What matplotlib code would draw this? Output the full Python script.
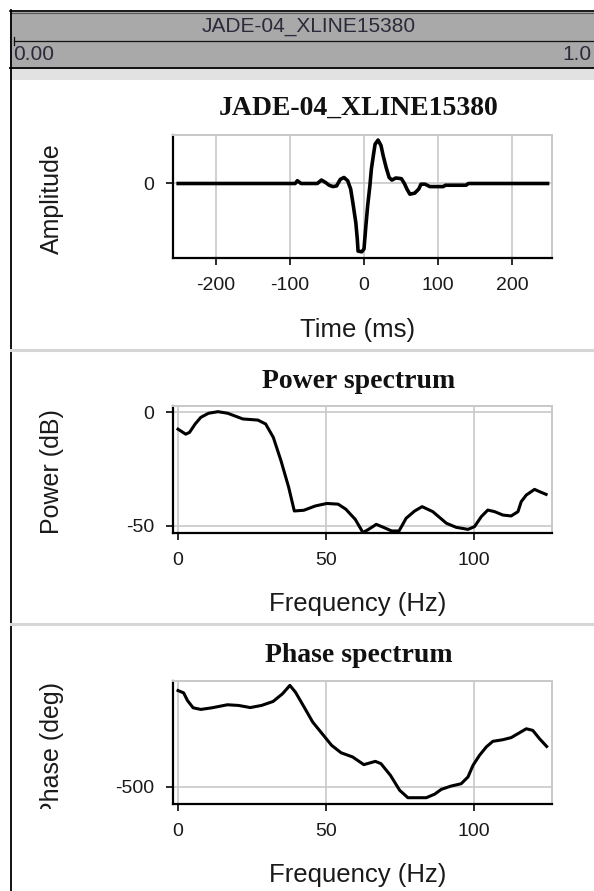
import matplotlib
matplotlib.use("Agg")
import matplotlib.pyplot as plt
from matplotlib.transforms import Bbox

W, H = 594, 891
SANS = "Liberation Sans"
SERIF = "Liberation Serif"
GRID = "#c8c8c8"
INK = "#1a1a1a"

plt.rcParams["font.family"] = [SANS, "DejaVu Sans"]
plt.rcParams["axes.unicode_minus"] = False

trace_name = "JADE-04_XLINE15380"

# wavelet
time_ms = [-251, -93, -90, -85, -63, -57.5, -52, -47, -42, -37, -32, -27, -22,
           -18, -15, -11, -9, -8, -3, 0, 2.6, 5, 8, 10, 13, 15, 19, 23, 26, 30,
           34, 37.7, 43, 50.5, 54.6, 58, 62, 68.5, 74, 77, 82.5, 89, 107, 110,
           138, 141, 248]
amplitude = [0, 0, 0.04, 0, 0, 0.05, 0.015, -0.025, -0.045, -0.035, 0.06, 0.087,
             0.04, -0.08, -0.28, -0.57, -0.81, -0.98, -0.99, -0.95, -0.61, -0.32,
             -0.03, 0.21, 0.43, 0.57, 0.63, 0.55, 0.40, 0.23, 0.087, 0.05, 0.08,
             0.07, 0.0, -0.08, -0.155, -0.14, -0.08, -0.01, -0.01, -0.045, -0.045,
             -0.025, -0.025, 0, 0]

# power spectrum
freq_pow = [0, 2.6, 3.9, 5.8, 7.7, 10.3, 13.5, 16.8, 21.9, 27, 29.6, 32.2, 34.8,
            37.4, 39.3, 42.5, 46.4, 50.3, 54.1, 56.7, 59.9, 62.5, 64.4, 67, 69.6,
            72.2, 74.7, 77.1, 80, 82.5, 86.1, 90.7, 94, 98, 100.2, 102.5, 104.7,
            107, 109.8, 112.6, 114.9, 116, 117.7, 120.5, 122.2, 124.4]
power_db = [-7.4, -9.6, -8.8, -5.1, -2.2, -0.4, 0.3, -0.4, -2.9, -3.4, -5.1, -11,
            -21.3, -33, -43.4, -43.1, -41.2, -40.1, -40.4, -42.6, -47.1, -52.9,
            -51.5, -49.3, -50.7, -52.2, -52.2, -46.6, -43.4, -41.5, -43.7, -48.8,
            -50.6, -51.5, -50.3, -45.9, -43, -43.7, -45.2, -45.6, -43.7, -39.3,
            -36.4, -33.9, -34.9, -36.1]

# phase spectrum
freq_ph = [0, 1.9, 3.2, 5.1, 7.7, 11.5, 16.7, 20.5, 24.4, 28.2, 32.1, 35.3, 37.8,
           39.7, 42.3, 45.5, 48.7, 51.9, 55.1, 59, 62.8, 66.7, 68.6, 71.8, 74.9,
           77.7, 83.9, 86.7, 89, 92.3, 95.7, 98, 99.7, 101.9, 104.2, 106.4, 109.8,
           112.6, 114.9, 117.7, 119.9, 122.2, 124.6]
phase_deg = [-86, -96, -129, -160, -167, -160, -147, -150, -159, -150, -133, -100,
             -64, -93, -150, -221, -271, -321, -353, -371, -404, -390, -400, -450,
             -514, -546, -546, -531, -510, -496, -486, -457, -407, -364, -328, -304,
             -297, -288, -271, -250, -257, -293, -326]

fig = plt.figure(figsize=(W / 100, H / 100), dpi=100)

# window chrome, drawn in pixel units
bg = fig.add_axes([0, 0, 1, 1])
bg.set_xlim(0, W)
bg.set_ylim(H, 0)
bg.axis("off")
bg.fill_between([10, W], 10, 68, color="#a9a9a9", lw=0)
bg.fill_between([10, W], 68, 80, color="#e2e2e2", lw=0)
bg.plot([10, W], [10.5, 10.5], color="black", lw=1.2)
bg.plot([10, W], [13, 13], color="#555555", lw=0.8)
bg.plot([10, W], [68, 68], color="#111111", lw=1.4)
bg.plot([14, W], [41, 41], color="#111111", lw=0.9)
bg.plot([14, 14], [37, 45], color="#111111", lw=0.9)
bg.plot([10.5, 10.5], [10, H], color="black", lw=1.3)
for y in (350, 624):
    bg.plot([11, W], [y, y], color="#d6d6d6", lw=2.2)
bg.text(309, 31.5, trace_name, ha="center", va="baseline", fontsize=15, color="#2a2a3a")
bg.text(13, 60, "0.00", ha="left", va="baseline", fontsize=15, color="#2a2a3a")
bg.text(592, 60, "1.0", ha="right", va="baseline", fontsize=15, color="#2a2a3a")


def panel(top, bottom):
    ax = fig.add_axes([173 / W, 1 - bottom / H, (552 - 173) / W, (bottom - top) / H])
    ax.set_facecolor("white")
    for s in ("top", "right"):
        ax.spines[s].set_color(GRID)
        ax.spines[s].set_linewidth(1.4)
    for s in ("left", "bottom"):
        ax.spines[s].set_color("black")
        ax.spines[s].set_linewidth(1.6)
    ax.grid(True, color=GRID, lw=1.2)
    ax.set_axisbelow(True)
    ax.tick_params(direction="out", length=5, width=1.3, color=INK,
                   labelsize=14, labelcolor=INK, pad=8.5)
    return ax


def labels(ax, title, title_y, xlabel, xlabel_y, ylabel, ylabel_y, ha="center"):
    bg.text(359, title_y, title, ha="center", va="baseline", fontsize=20,
            fontweight="bold", family=SERIF, color="#111111")
    ax.set_xlabel(xlabel, fontsize=18.5, color=INK, va="baseline")
    ax.xaxis.set_label_coords(358, xlabel_y, transform=bg.transData)
    ax.set_ylabel(ylabel, fontsize=18, color=INK, va="center", ha=ha)
    ax.yaxis.set_label_coords(52, ylabel_y, transform=bg.transData)


# amplitude vs time
ax1 = panel(135, 258)
ax1.plot(time_ms, amplitude, color="black", lw=2.6)
ax1.set_xlim(-258, 254)
ax1.set_ylim(-1.08, 0.703)
ax1.set_xticks([-200, -100, 0, 100, 200])
ax1.set_yticks([0])
labels(ax1, trace_name, 115, "Time (ms)", 336.7, "Amplitude", 199)

# power spectrum
ax2 = panel(406, 533)
ax2.plot(freq_pow, power_db, color="black", lw=2.2)
ax2.set_xlim(-1.7, 126.4)
ax2.set_ylim(-53.1, 2.8)
ax2.set_xticks([0, 50, 100])
ax2.set_yticks([0, -50])
labels(ax2, "Power spectrum", 388.3, "Frequency (Hz)", 610.7, "Power (dB)", 471.5)

# phase spectrum
ax3 = panel(681, 804)
ax3.plot(freq_ph, phase_deg, color="black", lw=2.2)
ax3.set_xlim(-1.7, 126.4)
ax3.set_ylim(-573, -45)
ax3.set_xticks([0, 50, 100])
ax3.set_yticks([-500])
labels(ax3, "Phase spectrum", 661.7, "Frequency (Hz)", 881.7, "Phase (deg)", 682, ha="right")
ax3.yaxis.label.set_clip_box(Bbox([[0, H - 809], [172, H - 600]]))
ax3.yaxis.label.set_clip_on(True)

fig.savefig("out.png", dpi=100)
